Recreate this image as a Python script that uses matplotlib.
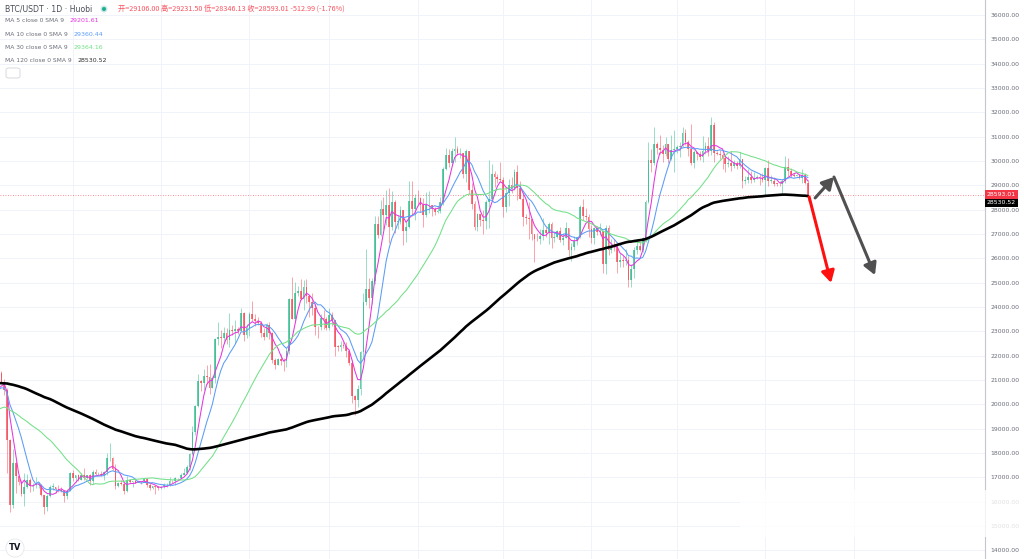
import numpy as np
import pandas as pd
import matplotlib
matplotlib.use("Agg")
import matplotlib.pyplot as plt
from matplotlib.patches import FancyArrowPatch, FancyBboxPatch, Rectangle, Circle

# BTC/USDT daily closes, 2022-07-01 .. 2023-08-16 (older months only feed the moving averages)
close_2022_07 = [19300, 19250, 19300, 20230, 20190, 20550, 21630, 21590, 21590, 20850, 19960, 19330, 20230, 20590,
                 20830, 21190, 20790, 22430, 23400, 23230, 23160, 22680, 22460, 22580, 21310, 21250, 22950, 23850,
                 23780, 23640, 23300]
close_2022_08 = [23270, 22990, 22820, 22620, 23310, 22960, 23180, 23810, 23160, 23950, 23950, 24400, 24440, 24300,
                 24100, 23850, 23340, 23210, 20830, 21140, 21520, 21400, 21530, 21370, 21590, 20260, 20040, 19550,
                 20290, 19810, 20050]
close_2022_09 = [20130, 19950, 19830, 19990, 19810, 18790, 19290, 19320, 21360, 21650, 21830, 22400, 20170, 20230,
                 19700, 19800, 20110, 19420, 19540, 18880, 18550, 19410, 19300, 18930, 18800, 19220, 19080, 19410,
                 19590, 19420]
close_2022_10 = [19310, 19050, 19630, 20340, 20160, 19960, 19530, 19420, 19450, 19140, 19050, 19160, 19380, 19190,
                 19070, 19260, 19550, 19330, 19140, 19050, 19170, 19210, 19570, 19330, 20090, 20770, 20290, 20600,
                 20810, 20630, 20490]
close_2022_11 = [20480, 20160, 20210, 21150, 21300, 20920, 20600, 18540, 15880, 17590, 17070, 16810, 16330, 16620,
                 16900, 16660, 16690, 16700, 16700, 16280, 15780, 16230, 16600, 16600, 16520, 16460, 16440, 16220,
                 16440, 17170]
close_2022_12 = [16970, 17090, 16890, 17110, 16970, 17090, 16840, 17230, 17130, 17130, 17090, 17210, 17780, 17810,
                 17360, 16630, 16780, 16740, 16440, 16900, 16820, 16830, 16780, 16840, 16830, 16920, 16700, 16550,
                 16630, 16600, 16540]
close_2023_01 = [16620, 16670, 16680, 16860, 16830, 16950, 16950, 17090, 17190, 17440, 17940, 18850, 19930, 20950,
                 20870, 21180, 21130, 20680, 21070, 22670, 22780, 22710, 22910, 22630, 23060, 23010, 23080, 23030,
                 23770, 22840, 23140]
close_2023_02 = [23730, 23490, 23430, 23330, 22940, 22760, 23260, 22950, 21800, 21630, 21860, 21790, 21780, 22200,
                 24330, 23520, 24580, 24640, 24330, 24840, 24450, 24190, 23950, 23190, 23160, 23560, 23490, 23130]
close_2023_03 = [23650, 23470, 22360, 22350, 22430, 22410, 22200, 21710, 20360, 20190, 20630, 22160, 24200, 24750,
                 24380, 25060, 27420, 26970, 28040, 27770, 28180, 27300, 28330, 27490, 27490, 27990, 27140, 27270,
                 28350, 28030, 28480]
close_2023_04 = [28470, 28200, 27800, 28170, 28170, 28040, 27920, 27950, 28330, 29650, 30240, 29900, 30400, 30490,
                 30320, 30320, 29450, 30400, 28820, 28250, 27280, 27820, 27590, 27530, 28310, 28420, 29480, 29340,
                 29250, 29230]
close_2023_05 = [28090, 28680, 29030, 28850, 29540, 28900, 28450, 27690, 27660, 27620, 27000, 26800, 26780, 26930,
                 27180, 27030, 27400, 26830, 26890, 27120, 26750, 26850, 27230, 26330, 26480, 26720, 26870, 28090,
                 27750, 27700, 27220]
close_2023_06 = [26820, 27250, 27080, 27120, 25760, 27240, 26350, 26500, 26480, 25850, 25940, 25900, 25920, 25120,
                 25580, 26330, 26510, 26340, 26840, 28330, 30020, 29910, 30690, 30550, 30470, 30270, 30700, 30080,
                 30450, 30480]
close_2023_07 = [30590, 30620, 31160, 30770, 30510, 29900, 30350, 30290, 30170, 30410, 30620, 30390, 31480, 30320,
                 30290, 30250, 30140, 29860, 29910, 29800, 29910, 29790, 30080, 29180, 29230, 29350, 29220, 29320,
                 29350, 29280, 29230]
close_2023_08 = [29700, 29180, 29180, 29070, 29050, 29040, 29180, 29770, 29580, 29440, 29400, 29420, 29300, 29430,
                 29106, 28593.01]

# highs / lows of the drawn candles, 2022-11-04 .. 2023-08-16
high_2022_11 = [21300, 21470, 21360, 21050, 20670, 18590, 18150, 17650, 17070, 16880, 17180, 17120, 16990, 16770,
                17010, 16800, 16740, 16290, 16300, 16700, 16780, 16600, 16680, 16600, 16480, 16530, 17230]
low_2022_11 = [20180, 21100, 20900, 20400, 17170, 15590, 15750, 16360, 16690, 16230, 15820, 16550, 16410, 16420,
               16550, 16560, 16250, 15480, 15600, 16170, 16460, 16350, 16400, 16400, 15990, 16110, 16430]
high_2022_12 = [17300, 17110, 17150, 17190, 17400, 17110, 17140, 17290, 17340, 17220, 17270, 17240, 18000, 18390,
                17850, 17530, 16800, 16870, 16820, 17050, 16910, 16860, 16950, 16860, 16860, 16940, 16970, 16780,
                16650, 16640, 16640]
low_2022_12 = [16860, 16800, 16860, 16880, 16900, 16910, 16690, 16740, 17100, 17090, 17070, 16880, 17090, 17660,
               17280, 16530, 16580, 16670, 16300, 16400, 16760, 16600, 16760, 16790, 16730, 16800, 16620, 16460,
               16510, 16330, 16490]
high_2023_01 = [16630, 16760, 16770, 17000, 16880, 17020, 16970, 17170, 17390, 17490, 18000, 19100, 19990, 21260,
                21000, 21450, 21620, 21640, 21180, 22740, 23370, 23070, 23160, 23140, 23760, 23240, 23480, 23170,
                23950, 23800, 23290]
low_2023_01 = [16500, 16550, 16600, 16660, 16760, 16670, 16900, 16910, 17090, 17140, 17300, 17910, 18720, 19880,
               20550, 20600, 20850, 20410, 20660, 20880, 22420, 22300, 22520, 22470, 22340, 22850, 22530, 22880,
               23000, 22620, 22730]
high_2023_02 = [23800, 24260, 23710, 23580, 23430, 23150, 23340, 23400, 22990, 21920, 21890, 22080, 21890, 22330,
                24360, 25250, 25010, 24880, 25150, 25100, 25130, 24480, 24590, 24130, 23220, 23690, 23880, 23600]
low_2023_02 = [22800, 23410, 23230, 23270, 22780, 22640, 22750, 22680, 21700, 21460, 21600, 21630, 21370, 21550,
               22050, 23500, 23380, 24450, 24270, 23860, 24170, 23600, 23650, 22850, 22720, 23070, 23110, 23040]
high_2023_03 = [23960, 23780, 23480, 22420, 22600, 22550, 22550, 22260, 21800, 20370, 20800, 22180, 24580, 26400,
                25200, 25200, 27750, 27720, 28400, 28500, 28800, 28900, 28770, 28380, 27760, 28160, 28000, 27490,
                29160, 29160, 28650]
low_2023_03 = [23040, 23200, 21980, 22170, 22200, 22310, 21950, 21600, 20050, 19570, 19900, 20390, 21920, 24100,
               23940, 24140, 24930, 26830, 26910, 27200, 27380, 26630, 27170, 27040, 27190, 27400, 26560, 26660,
               27260, 27740, 27570]
high_2023_04 = [28800, 28500, 28470, 28720, 28750, 28200, 28100, 28150, 28520, 29760, 30530, 30480, 30550, 31000,
                30600, 30550, 30330, 30480, 30410, 29090, 28360, 27880, 27820, 28000, 28380, 30020, 29890, 29590,
                29470, 29970]
low_2023_04 = [28250, 27890, 27270, 27700, 27850, 27750, 27780, 27870, 27850, 28180, 29620, 29740, 29850, 29960,
               30250, 30120, 29280, 29120, 28650, 28030, 27160, 27130, 27330, 26990, 27220, 27260, 28390, 28910,
               29080, 29120]
high_2023_05 = [29330, 28880, 29270, 29350, 29690, 29820, 29160, 28640, 27820, 28320, 27630, 26950, 27030, 27200,
                27650, 27280, 27480, 27480, 27120, 27150, 27270, 27050, 27480, 27230, 26620, 26930, 26890, 28200,
                28450, 28050, 27820]
low_2023_05 = [27700, 27900, 28130, 28700, 28810, 28400, 28420, 27330, 27390, 26800, 26760, 25830, 26700, 26600,
               26750, 26880, 26600, 26420, 26690, 26850, 26660, 26540, 26830, 26100, 25880, 26350, 26560, 26850,
               27570, 27580, 26860]
high_2023_06 = [27350, 27300, 27330, 27450, 27140, 27370, 27360, 26780, 26780, 26530, 26210, 26090, 26400, 26080,
                25750, 26470, 26780, 26690, 26890, 28400, 30780, 30500, 31400, 30800, 31050, 30660, 31000, 30700,
                31080, 31280]
low_2023_06 = [26620, 26600, 26960, 26970, 25400, 25350, 26130, 26220, 26290, 25400, 25650, 25630, 25730, 24820,
               24800, 25170, 26170, 26280, 26260, 26680, 28270, 29550, 29830, 30280, 30290, 29960, 30220, 29920,
               30060, 29550]
high_2023_07 = [30650, 30780, 31380, 31320, 30880, 31500, 30440, 30380, 30420, 31030, 30800, 30980, 31820, 31620,
                30390, 30450, 30340, 30240, 30190, 30410, 30050, 29990, 30350, 30100, 29380, 29690, 29570, 29530,
                29410, 29450, 29520]
low_2023_07 = [30330, 30180, 30580, 30650, 30220, 29850, 29720, 30060, 30060, 29950, 30290, 30200, 30260, 29960,
               30250, 30090, 29680, 29530, 29740, 29580, 29720, 29650, 29730, 28900, 29050, 29100, 29100, 29120,
               29270, 29030, 29120]
high_2023_08 = [29740, 30050, 29420, 29330, 29110, 29180, 29260, 30200, 30130, 29700, 29520, 29470, 29460, 29680,
                29490, 29231.50]
low_2023_08 = [28600, 28980, 29100, 28960, 28970, 28980, 28700, 29110, 29380, 29330, 29330, 29380, 29270, 29080,
               29050, 28346.13]

first_candle = 126          # index of 2022-11-04 in the close series
month_starts = [153, 184, 215, 243, 274, 304, 335, 365, 396, 427]   # Dec-1 .. Sep-1
ma_periods = [5, 10, 30, 120]
ma_colors = ["#e535e0", "#5b9cf6", "#72e087", "#000000"]
ma_values = ["29201.61", "29360.44", "29364.16", "28530.52"]
last_price = 28593.01
ma120_last = 28530.52

# scenario arrows (index, price)
arrow_up = [(413.5, 28480), (420.1, 29340)]
arrow_down = [(420.1, 29340), (434.5, 25310)]
arrow_red = [(411.4, 28520), (419.1, 24990)]

closes = np.array(close_2022_07 + close_2022_08 + close_2022_09 + close_2022_10 + close_2022_11 + close_2022_12
                  + close_2023_01 + close_2023_02 + close_2023_03 + close_2023_04 + close_2023_05 + close_2023_06
                  + close_2023_07 + close_2023_08, dtype=float)
highs = np.array(high_2022_11 + high_2022_12 + high_2023_01 + high_2023_02 + high_2023_03 + high_2023_04
                 + high_2023_05 + high_2023_06 + high_2023_07 + high_2023_08, dtype=float)
lows = np.array(low_2022_11 + low_2022_12 + low_2023_01 + low_2023_02 + low_2023_03 + low_2023_04
                + low_2023_05 + low_2023_06 + low_2023_07 + low_2023_08, dtype=float)

idx = np.arange(first_candle, len(closes))
c = closes[first_candle:]
o = closes[first_candle - 1:-1]
up = c >= o
GREEN, RED = "#1db482", "#f23645"
cols = np.where(up, GREEN, RED)

W, H = 1024, 559
fig = plt.figure(figsize=(W / 100, H / 100), dpi=100)
ax = fig.add_axes([0, 0, 985 / W, 1])
ax.set_xlim(127.49, 473.1)
ax.set_ylim(13641, 36616)

# grid
for p in range(14000, 37000, 1000):
    ax.axhline(p, color="#f0f3fa", lw=0.7, zorder=0)
for m in month_starts:
    ax.axvline(m, color="#f0f3fa", lw=0.7, zorder=0)

# candles
ax.vlines(idx, lows, highs, colors=cols, lw=0.7, alpha=0.45, zorder=2)
body_lo = np.minimum(o, c)
body_h = np.maximum(np.abs(c - o), 25)
ax.bar(idx, body_h, bottom=body_lo, width=0.62, color=cols, alpha=0.68, lw=0, zorder=3)

# moving averages
s = pd.Series(closes)
for n, col in zip(ma_periods, ma_colors):
    ma = s.rolling(n).mean().values
    lw = 1.9 if n == 120 else 0.75
    ax.plot(np.arange(len(closes)), ma, color=col, lw=lw, zorder=4 if n != 120 else 5, solid_capstyle="round")

# last price line
ax.axhline(last_price, color=RED, lw=0.6, ls=(0, (1, 2)), alpha=0.7, zorder=1)

# arrows
for (a, b), col in [(arrow_up, "#505050"), (arrow_down, "#505050"), (arrow_red, "#ff1010")]:
    ax.add_patch(FancyArrowPatch(a, b, arrowstyle="-|>,head_length=0.5,head_width=0.28", mutation_scale=14,
                                 lw=2.2, color=col, zorder=6, shrinkA=0, shrinkB=0))

# right axis
for sp in ["top", "left", "bottom"]:
    ax.spines[sp].set_visible(False)
ax.spines["right"].set_color("#c3c6ce")
ax.spines["right"].set_linewidth(0.8)
ax.set_xticks([])
ax.yaxis.tick_right()
ax.set_yticks(range(14000, 37000, 1000))
ax.set_yticklabels([f"{p:.2f}" for p in range(14000, 37000, 1000)])
ax.tick_params(axis="y", length=0, pad=4, labelsize=4.4, labelcolor="#6a6d78")

ax.annotate(f"{last_price:.2f}", xy=(1, last_price), xycoords=("axes fraction", "data"), xytext=(1.2, 0.6),
            textcoords="offset points", ha="left", va="center", color="white", fontsize=4.4, zorder=10,
            annotation_clip=False, bbox=dict(boxstyle="square,pad=0.35", fc=RED, ec="none"))
ax.annotate(f"{ma120_last:.2f}", xy=(1, ma120_last), xycoords=("axes fraction", "data"), xytext=(1.2, -4.5),
            textcoords="offset points", ha="left", va="center", color="white", fontsize=4.4, zorder=10,
            annotation_clip=False, bbox=dict(boxstyle="square,pad=0.3", fc="#000000", ec="none"))


def px(x, y):
    return x / W, 1 - y / H


# header
fig.text(*px(5, 9), "BTC/USDT · 1D · Huobi", fontsize=5.6, color="#4a4d57", va="center")
# status dot (inch coordinates keep it round)
fig.add_artist(Circle((1.04, (H - 9) / 100), 0.035, transform=fig.dpi_scale_trans, fc="#22ab94", alpha=0.25, ec="none"))
fig.add_artist(Circle((1.04, (H - 9) / 100), 0.02, transform=fig.dpi_scale_trans, fc="#22ab94", ec="none"))
fig.text(*px(118, 9), "开=29106.00 高=29231.50 低=28346.13 收=28593.01 -512.99 (-1.76%)",
         fontsize=5.2, color="#f7525f", va="center", family=["Noto Sans CJK SC", "DejaVu Sans"])
rows_y = [21, 34.5, 47.5, 60.5]
val_x = [69, 73, 73, 77]
for n, col, v, y, vx in zip(ma_periods, ma_colors, ma_values, rows_y, val_x):
    fig.text(*px(5, y), f"MA {n} close 0 SMA 9", fontsize=4.3, color="#6a6d78", va="center")
    fig.text(*px(vx, y), v, fontsize=4.5, color=col if n != 120 else "#333333", va="center")
fig.add_artist(FancyBboxPatch(px(6, 78), 14 / W, 10 / H, boxstyle="round,pad=0,rounding_size=0.003",
                              transform=fig.transFigure, fc="white", ec="#d1d4dc", lw=0.6))

# watermark area bottom right
fig.add_artist(Rectangle(px(740, 537), 284 / W, 47 / H, transform=fig.transFigure, fc="white", ec="none", alpha=0.8))

# TradingView logo
fig.text(*px(15, 548), "TV", fontsize=6, fontweight="bold", color="#131722", ha="center", va="center",
         bbox=dict(boxstyle="circle,pad=0.35", fc="white", ec="#e0e3eb", lw=0.5))

fig.savefig("out.png", dpi=100, facecolor="white")
